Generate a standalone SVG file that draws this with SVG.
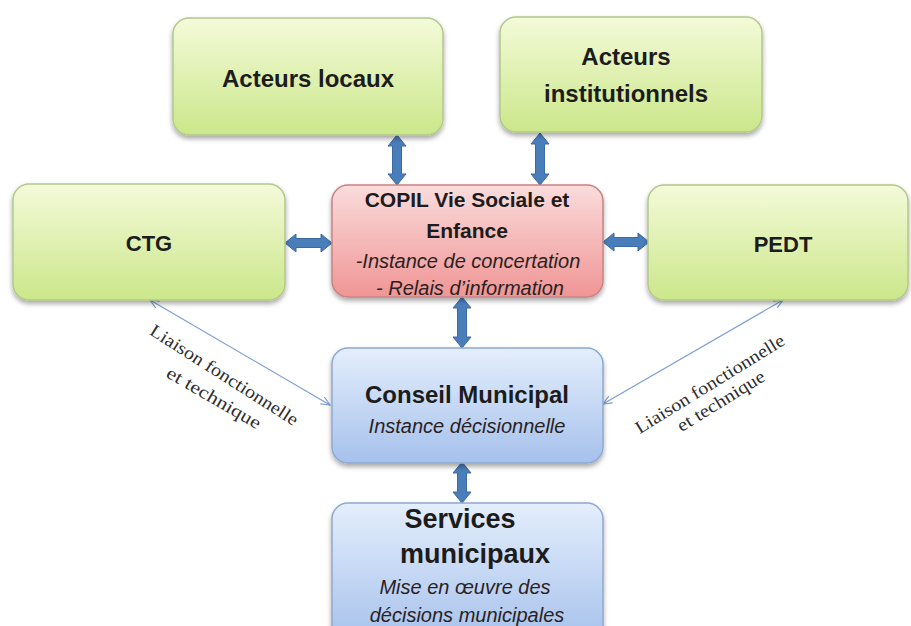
<svg xmlns="http://www.w3.org/2000/svg" width="911" height="626" viewBox="0 0 911 626">
<defs>
<linearGradient id="gGreen" x1="0" y1="0" x2="0" y2="1">
<stop offset="0" stop-color="#f4fad9"/><stop offset="1" stop-color="#cbe78a"/>
</linearGradient>
<linearGradient id="gRed" x1="0" y1="0" x2="0" y2="1">
<stop offset="0" stop-color="#fbdcdc"/><stop offset="1" stop-color="#f09595"/>
</linearGradient>
<linearGradient id="gBlue" x1="0" y1="0" x2="0" y2="1">
<stop offset="0" stop-color="#e4eefc"/><stop offset="1" stop-color="#a6c1ec"/>
</linearGradient>
<filter id="sh" x="-10%" y="-10%" width="120%" height="130%">
<feGaussianBlur in="SourceAlpha" stdDeviation="2.5"/>
<feOffset dx="0" dy="3" result="b"/>
<feComponentTransfer><feFuncA type="linear" slope="0.35"/></feComponentTransfer>
<feMerge><feMergeNode/><feMergeNode in="SourceGraphic"/></feMerge>
</filter>
<marker id="ah" viewBox="0 0 10 10" refX="9" refY="5" markerWidth="10" markerHeight="10" markerUnits="userSpaceOnUse" orient="auto-start-reverse">
<path d="M0,1 L9,5 L0,9" fill="none" stroke="#7f9fd3" stroke-width="1.2"/>
</marker>
</defs>
<style>
.green{fill:url(#gGreen);stroke:#b3c88c;stroke-width:1.5}
.red{fill:url(#gRed);stroke:#c98282;stroke-width:1.5}
.blue{fill:url(#gBlue);stroke:#8ea9d0;stroke-width:1.5}
.t{font-family:"Liberation Sans",Arial,sans-serif;font-weight:bold;fill:#1c1c1c;text-anchor:middle}
.i{font-family:"Liberation Sans",Arial,sans-serif;font-style:italic;fill:#2a2222;text-anchor:middle;font-size:20px}
.arr{fill:#4a7ebb;stroke:#3b69a3;stroke-width:1}
.thin{stroke:#7f9fd3;stroke-width:1.2;fill:none;marker-start:url(#ah);marker-end:url(#ah)}
.lbl{font-family:"Liberation Serif","Times New Roman",serif;fill:#2e2e2e;font-size:18px;text-anchor:middle}
</style>
<rect width="911" height="626" fill="#ffffff"/>

<g id="connectors">
<path class="arr" d="M397,135 L406,146 L401.5,146 L401.5,174 L406,174 L397,185 L388,174 L392.5,174 L392.5,146 L388,146 Z"/>
<path class="arr" d="M540,133 L549,144 L544.5,144 L544.5,174 L549,174 L540,185 L531,174 L535.5,174 L535.5,144 L531,144 Z"/>
<path class="arr" d="M285,243 L296,234 L296,238.5 L321,238.5 L321,234 L332,243 L321,252 L321,247.5 L296,247.5 L296,252 Z"/>
<path class="arr" d="M603,242 L614,233 L614,237.5 L638,237.5 L638,233 L649,242 L638,251 L638,246.5 L614,246.5 L614,251 Z"/>
<path class="arr" d="M462,297 L471,308 L466.5,308 L466.5,337 L471,337 L462,348 L453,337 L457.5,337 L457.5,308 L453,308 Z"/>
<path class="arr" d="M462,462 L471,473 L466.5,473 L466.5,492 L471,492 L462,503 L453,492 L457.5,492 L457.5,473 L453,473 Z"/>
<line class="thin" x1="150" y1="300" x2="330" y2="405"/>
<line class="thin" x1="783" y1="300" x2="603" y2="404"/>
<text class="lbl" transform="translate(221,380) rotate(32.5)" textLength="172" lengthAdjust="spacingAndGlyphs">Liaison fonctionnelle</text>
<text class="lbl" transform="translate(211,403) rotate(30)" textLength="106" lengthAdjust="spacingAndGlyphs">et technique</text>
<text class="lbl" transform="translate(713,389) rotate(-31.7)" textLength="172" lengthAdjust="spacingAndGlyphs">Liaison fonctionnelle</text>
<text class="lbl" transform="translate(724,406) rotate(-31.7)" textLength="100" lengthAdjust="spacingAndGlyphs">et technique</text>
</g>

<g id="acteurs-locaux">
<rect class="green" x="173" y="18" width="270" height="117" rx="16" filter="url(#sh)"/>
<text class="t" x="308" y="87" font-size="24">Acteurs locaux</text>
</g>
<g id="acteurs-institutionnels">
<rect class="green" x="500" y="17" width="262" height="115" rx="16" filter="url(#sh)"/>
<text class="t" x="626" y="65" font-size="24">Acteurs</text>
<text class="t" x="626" y="102" font-size="24">institutionnels</text>
</g>
<g id="ctg">
<rect class="green" x="13" y="184" width="272" height="116" rx="16" filter="url(#sh)"/>
<text class="t" x="149" y="251" font-size="22">CTG</text>
</g>
<g id="pedt">
<rect class="green" x="648" y="185" width="260" height="115" rx="16" filter="url(#sh)"/>
<text class="t" x="783" y="252" font-size="22">PEDT</text>
</g>
<g id="copil">
<rect class="red" x="332" y="185" width="271" height="112" rx="16" filter="url(#sh)"/>
<text class="t" x="467" y="207" font-size="21">COPIL Vie Sociale et</text>
<text class="t" x="467" y="238" font-size="21">Enfance</text>
<text class="i" x="468" y="268">-Instance de concertation</text>
<text class="i" x="470" y="295">- Relais d’information</text>
</g>
<g id="conseil-municipal">
<rect class="blue" x="332" y="348" width="271" height="115" rx="16" filter="url(#sh)"/>
<text class="t" x="467" y="403" font-size="24">Conseil Municipal</text>
<text class="i" x="467" y="433">Instance décisionnelle</text>
</g>
<g id="services-municipaux">
<rect class="blue" x="332" y="503" width="271" height="140" rx="16" filter="url(#sh)"/>
<text class="t" x="460" y="528" font-size="27">Services</text>
<text class="t" x="475" y="563" font-size="27">municipaux</text>
<text class="i" x="465" y="594">Mise en œuvre des</text>
<text class="i" x="467" y="622">décisions municipales</text>
</g>
</svg>
